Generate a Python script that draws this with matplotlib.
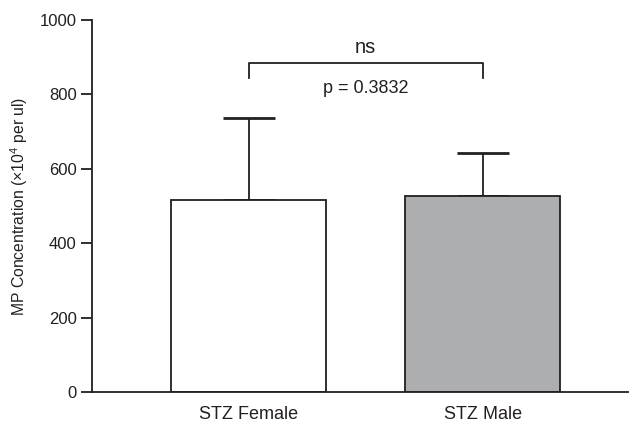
import numpy as np
import matplotlib.pyplot as plt

# data
groups = ["STZ Female", "STZ Male"]
means = [515, 527]
upper_err = [222, 116]
bar_colors = ["white", "#adaeb0"]
p_text = "p = 0.3832"
sig_text = "ns"

plt.rcParams['font.family'] = ['Liberation Sans', 'DejaVu Sans']
plt.rcParams['mathtext.fontset'] = 'custom'
plt.rcParams['mathtext.rm'] = 'Liberation Sans'

fig = plt.figure(figsize=(6.29, 4.24), dpi=100)
ax = fig.add_axes([0.146, 0.0755, 0.852, 0.8775])

edge = "#231f20"
x = np.arange(len(groups))
ax.bar(x, means, width=0.66, color=bar_colors, edgecolor=edge, linewidth=1.3, zorder=2)
ax.errorbar(x, means, yerr=[np.zeros(len(means)), upper_err], fmt="none",
            ecolor=edge, elinewidth=1.3, capsize=19, capthick=2, zorder=1)

# significance bracket
ax.plot([0, 0, 1, 1], [844, 884, 884, 844], color=edge, lw=1.3)
ax.text(0.5, 927, sig_text, ha="center", va="center", fontsize=14.5, color=edge)
ax.text(0.5, 817, p_text, ha="center", va="center", fontsize=13, color=edge)

ax.set_xlim(-0.67, 1.62)
ax.set_ylim(0, 1000)
ax.set_yticks([0, 200, 400, 600, 800, 1000])
ax.set_xticks(x)
ax.set_xticklabels(groups)
ax.tick_params(axis="x", length=0, pad=10, labelsize=13, colors=edge)
ax.tick_params(axis="y", length=8, width=1.3, pad=3, labelsize=12, colors=edge)
ax.set_ylabel("MP Concentration (×10$^4$ per ul)", fontsize=11.3, color=edge, labelpad=7)

for s in ["top", "right"]:
    ax.spines[s].set_visible(False)
for s in ["left", "bottom"]:
    ax.spines[s].set_linewidth(1.3)
    ax.spines[s].set_color(edge)

plt.savefig("out.png", dpi=100)
